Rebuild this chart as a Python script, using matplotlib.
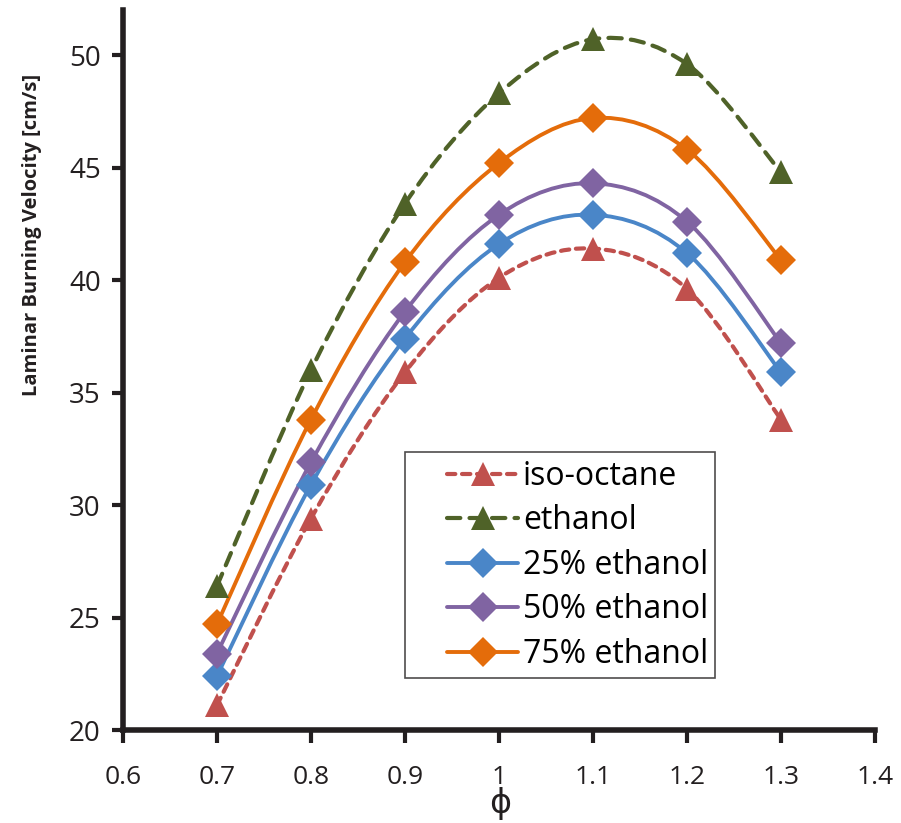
import matplotlib.pyplot as plt
from matplotlib.path import Path
from matplotlib.patches import PathPatch
from matplotlib.lines import Line2D
from matplotlib.legend_handler import HandlerLine2D
import numpy as np

plt.rcParams['font.family'] = ['Open Sans', 'DejaVu Sans']

phi = [0.7, 0.8, 0.9, 1.0, 1.1, 1.2, 1.3]
iso_octane = [21.1, 29.4, 35.9, 40.1, 41.4, 39.6, 33.8]
ethanol = [26.4, 36.0, 43.4, 48.3, 50.7, 49.6, 44.8]
eth25 = [22.4, 30.9, 37.4, 41.6, 42.9, 41.2, 35.9]
eth50 = [23.4, 31.9, 38.6, 42.9, 44.3, 42.6, 37.2]
eth75 = [24.7, 33.8, 40.8, 45.2, 47.2, 45.8, 40.9]

labels = ['iso-octane', 'ethanol', '25% ethanol', '50% ethanol', '75% ethanol']
series = [iso_octane, ethanol, eth25, eth50, eth75]
colors = ['#C0504D', '#4F6228', '#4A86C8', '#8064A2', '#E46C0A']
markers = ['^', '^', 'D', 'D', 'D']
dashes = [(2.0, 1.6), (3.2, 2.2), None, None, None]


def smooth_path(x, y):
    # excel-like smoothed line as cubic bezier segments
    pts = np.column_stack([x, y])
    n = len(pts)
    verts = [pts[0]]
    codes = [Path.MOVETO]
    for i in range(n - 1):
        p0 = pts[max(i - 1, 0)]
        p1 = pts[i]
        p2 = pts[i + 1]
        p3 = pts[min(i + 2, n - 1)]
        c1 = p1 + (p2 - p0) / 6
        c2 = p2 - (p3 - p1) / 6
        verts += [c1, c2, p2]
        codes += [Path.CURVE4] * 3
    return Path(verts, codes)


fig = plt.figure(figsize=(9.01, 8.23), dpi=100)
ax = fig.add_axes([0.1365, 0.113, 0.8346, 0.8748])

handles = []
for y, lab, c, m, d in zip(series, labels, colors, markers, dashes):
    ls = (0, d) if d else '-'
    patch = PathPatch(smooth_path(phi, y), facecolor='none', edgecolor=c,
                      lw=3.0 if d else 2.8, linestyle=ls, capstyle='round', zorder=2)
    ax.add_patch(patch)
    ms = 17 if m == '^' else 15
    ax.plot(phi, y, linestyle='none', marker=m, markersize=ms, color=c,
            markeredgewidth=0, zorder=3)
    handles.append(Line2D([], [], color=c, lw=3.0 if d else 2.8, linestyle=ls,
                          dash_capstyle='round', solid_capstyle='round',
                          marker=m, markersize=ms, markeredgewidth=0))

ax.set_xlim(0.6, 1.4)
ax.set_ylim(20, 52)
ax.set_xticks([0.6, 0.7, 0.8, 0.9, 1.0, 1.1, 1.2, 1.3, 1.4])
ax.set_xticklabels(['0.6', '0.7', '0.8', '0.9', '1', '1.1', '1.2', '1.3', '1.4'],
                   fontsize=19)
ax.set_yticks([20, 25, 30, 35, 40, 45, 50])
for s in ['top', 'right']:
    ax.spines[s].set_visible(False)
for s in ['left', 'bottom']:
    ax.spines[s].set_linewidth(4)
    ax.spines[s].set_color('#231F20')
ax.tick_params(axis='both', direction='out', width=3, color='#231F20',
               labelcolor='#231F20')
ax.tick_params(axis='x', length=9, pad=16)
ax.tick_params(axis='y', length=8, pad=8, labelsize=20)

fig.text(32 / 901, 1 - 235 / 823, 'Laminar Burning Velocity [cm/s]', rotation=90,
         ha='center', va='center', fontsize=14.5, fontweight='bold',
         color='#231F20')
fig.text(500 / 901, 1 - 805 / 823, 'ϕ', ha='center', va='center', fontsize=24,
         color='#231F20')

leg = ax.legend(handles, labels, loc='lower left', bbox_to_anchor=(0.375, 0.072),
                fontsize=23, frameon=True, fancybox=False, handlelength=3.3,
                handletextpad=0.16, labelspacing=0.36, borderpad=0.23,
                borderaxespad=0,
                handler_map={Line2D: HandlerLine2D(xpad=1.1)})
leg.get_frame().set_edgecolor('#231F20')
leg.get_frame().set_linewidth(1.2)

fig.savefig('out.png', dpi=100)
